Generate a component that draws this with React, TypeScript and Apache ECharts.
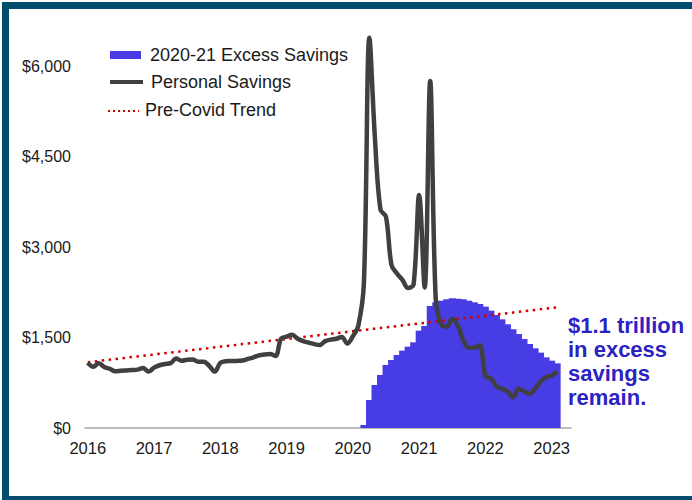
import React, { useEffect, useRef } from "react";
import * as echarts from "echarts";

const years = [2016, 2017, 2018, 2019, 2020, 2021, 2022, 2023];
const monthNames = ["Jan", "Feb", "Mar", "Apr", "May", "Jun", "Jul", "Aug", "Sep", "Oct", "Nov", "Dec"];
// Jan 2016 .. Apr 2023
const categories: string[] = [];
years.forEach((y) => monthNames.forEach((m, i) => { if (y < 2023 || i < 4) categories.push(m + " " + y); }));

const yTicks = [0, 1500, 3000, 4500, 6000];

// Personal savings, Jan 2016 .. Feb 2023 ($bn)
const personalSavings = [
  1083, 1016, 1072, 1010, 980, 940, 950, 955, 960, 967, 994, 935,
  1000, 1040, 1060, 1075, 1150, 1115, 1130, 1135, 1100, 1100, 1030, 935,
  1080, 1105, 1110, 1112, 1118, 1145, 1170, 1205, 1220, 1225, 1195, 1480,
  1514, 1545, 1480, 1440, 1415, 1390, 1375, 1440, 1465, 1480, 1510, 1400,
  1520, 1700, 2400, 6470, 4800, 3620, 3500, 2700, 2560, 2450, 2320, 2380,
  3860, 2330, 5750, 2150, 1720, 1680, 1810, 1700, 1450, 1330, 1330, 1370,
  860, 820, 690, 650, 610, 510, 650, 610, 565, 650, 770, 840,
  870, 935,
];

// 2020-21 excess savings stock, Mar 2020 .. Feb 2023 ($bn)
const excessStart = "Mar 2020";
const excessSavings = [
  50, 464, 713, 879, 1044, 1127, 1210, 1282, 1348, 1420,
  1613, 1691, 2022, 2083, 2110, 2133, 2150, 2144, 2133, 2110, 2083, 2055,
  2011, 1945, 1873, 1801, 1719, 1636, 1558, 1475, 1392, 1321, 1249, 1171,
  1116, 1072,
];

// Pre-Covid trend: straight line between two read endpoints
const trendStart = { month: "Jan 2016", value: 1090 };
const trendEnd = { month: "Feb 2023", value: 2000 };

const FONT = "'Liberation Sans', Arial, sans-serif";
const BAR = "#483de4";
const LINE = "#404040";
const RED = "#d40000";
const TEAL = "#004d6d";

export default function App() {
  const ref = useRef<HTMLDivElement>(null);
  useEffect(() => {
    if (!ref.current) return;
    const chart = echarts.init(ref.current, undefined, { renderer: "svg" });
    const startIdx = categories.indexOf(excessStart);
    const barData = categories.map((_, i) => {
      const k = i - startIdx;
      return k >= 0 && k < excessSavings.length ? excessSavings[k] : null;
    });
    const lineData = categories.map((_, i) => (i < personalSavings.length ? personalSavings[i] : null));
    const trendData = categories.map((c) =>
      c === trendStart.month ? trendStart.value : c === trendEnd.month ? trendEnd.value : null
    );
    chart.setOption({
      animation: false,
      grid: { left: 85, right: 121, top: 66, bottom: 72 },
      xAxis: {
        type: "category",
        data: categories,
        boundaryGap: true,
        axisLine: { lineStyle: { color: "#a6a6a6", width: 1.5 } },
        axisTick: { show: false },
        axisLabel: {
          interval: (i: number) => i % 12 === 0,
          formatter: (v: string) => v.split(" ")[1],
          color: "#1a1a1a",
          fontSize: 16.5,
          fontFamily: FONT,
          margin: 11,
        },
      },
      yAxis: {
        type: "value",
        min: yTicks[0],
        max: yTicks[yTicks.length - 1],
        interval: 1500,
        splitLine: { show: false },
        axisLine: { show: false },
        axisTick: { show: false },
        axisLabel: {
          formatter: (v: number) => "$" + v.toLocaleString("en-US"),
          color: "#1a1a1a",
          fontSize: 16,
          fontFamily: FONT,
          margin: 14,
        },
      },
      series: [
        {
          name: "2020-21 Excess Savings",
          type: "bar",
          data: barData,
          barWidth: "125%",
          itemStyle: { color: BAR },
          z: 1,
        },
        {
          name: "Pre-Covid Trend",
          type: "line",
          data: trendData,
          connectNulls: true,
          symbol: "none",
          lineStyle: { color: RED, width: 2.5, type: [2.5, 4.5] },
          z: 2,
        },
        {
          name: "Personal Savings",
          type: "line",
          data: lineData,
          symbol: "none",
          smooth: 0.35,
          clip: false,
          lineStyle: { color: LINE, width: 4.5 },
          z: 3,
        },
      ],
      graphic: [
        { type: "rect", shape: { x: 110, y: 51, width: 31, height: 8 }, style: { fill: BAR } },
        { type: "text", x: 150, y: 55, style: { text: "2020-21 Excess Savings", font: `18px ${FONT}`, fill: "#1a1a1a", verticalAlign: "middle" } },
        { type: "line", shape: { x1: 110, y1: 82, x2: 143, y2: 82 }, style: { stroke: LINE, lineWidth: 4 } },
        { type: "text", x: 151, y: 82, style: { text: "Personal Savings", font: `18px ${FONT}`, fill: "#1a1a1a", verticalAlign: "middle" } },
        { type: "line", shape: { x1: 108, y1: 111, x2: 139, y2: 111 }, style: { stroke: RED, lineWidth: 2, lineDash: [2, 3] } },
        { type: "text", x: 145, y: 110, style: { text: "Pre-Covid Trend", font: `18px ${FONT}`, fill: "#1a1a1a", verticalAlign: "middle" } },
        {
          type: "text",
          x: 568,
          y: 313,
          style: {
            text: "$1.1 trillion\nin excess\nsavings\nremain.",
            font: `bold 22px ${FONT}`,
            lineHeight: 24,
            fill: "#2b22c2",
          },
        },
      ],
    });
    return () => chart.dispose();
  }, []);

  return (
    <div style={{ position: "fixed", left: 0, top: 0, width: 692, height: 500, background: "#fff", overflow: "hidden" }}>
      <div ref={ref} style={{ position: "absolute", left: 0, top: 0, width: 692, height: 500 }} />
      <div style={{ position: "absolute", left: 2, top: 2, width: 690, height: 7, background: TEAL }} />
      <div style={{ position: "absolute", left: 2, top: 2, width: 7, height: 498, background: TEAL }} />
      <div style={{ position: "absolute", left: 2, top: 496, width: 690, height: 4, background: TEAL }} />
    </div>
  );
}
